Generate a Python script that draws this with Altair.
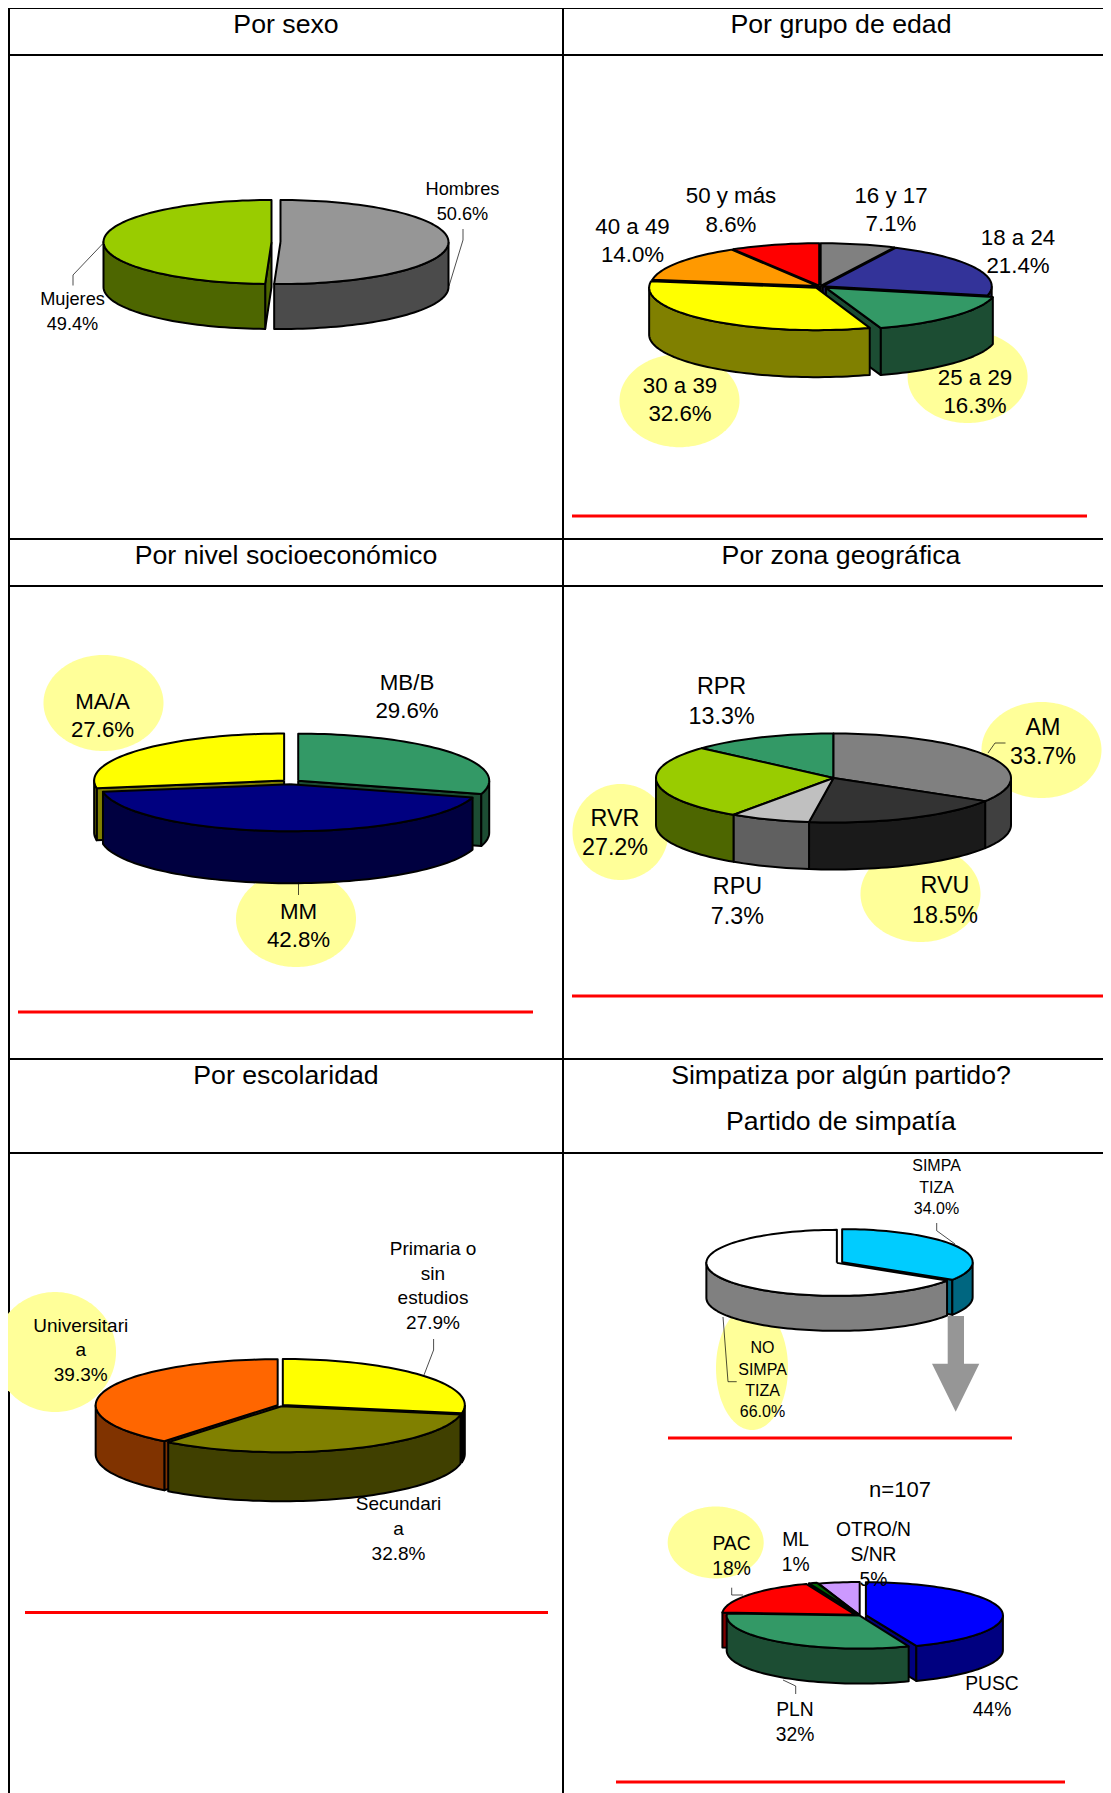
import math
import altair as alt
import pandas as pd

# ---- data values -------------------------------------------------------
sexo_names = ["Hombres", "Mujeres"]
sexo_vals = [50.6, 49.4]
edad_names = ["16 y 17", "18 a 24", "25 a 29", "30 a 39", "40 a 49", "50 y más"]
edad_vals = [7.1, 21.4, 16.3, 32.6, 14.0, 8.6]
nivel_names = ["MB/B", "MM", "MA/A"]
nivel_vals = [29.6, 42.8, 27.6]
zona_names = ["AM", "RVU", "RPU", "RVR", "RPR"]
zona_vals = [33.7, 18.5, 7.3, 27.2, 13.3]
esc_names = ["Primaria o sin estudios", "Secundaria", "Universitaria"]
esc_vals = [27.9, 32.8, 39.3]
simp_names = ["SIMPATIZA", "NO SIMPATIZA"]
simp_vals = [34.0, 66.0]
part_names = ["PUSC", "PLN", "PAC", "ML", "OTRO/NS/NR"]
part_vals = [44, 32, 18, 1, 5]

titles = ["Por sexo", "Por grupo de edad", "Por nivel socioeconómico", "Por zona geográfica",
          "Por escolaridad", "Simpatiza por algún partido?", "Partido de simpatía", "n=107"]

# ---- styles ------------------------------------------------------------
pies = [
    dict(v=sexo_vals, top=["#969696", "#99CC00"], wall=["#4B4B4B", "#4D6600"],
         geo=(276, 242, 168, 42, 45), ex=[4.5, 4.5], grow=[0, 0]),
    dict(v=edad_vals, top=["#808080", "#333399", "#339966", "#FFFF00", "#FF9900", "#FF0000"],
         wall=["#404040", "#1A1A4D", "#1C4D33", "#808000", "#804D00", "#800000"],
         geo=(820, 286.5, 167, 42.5, 47), ex=[3, 3, 8, 6, 3, 3], grow=[4, 2, 4, 0, 0, 0]),
    dict(v=nivel_vals, top=["#339966", "#000080", "#FFFF00"], wall=["#1C4D33", "#000040", "#808000"],
         geo=(291, 782, 190, 47, 52), ex=[9, 9, 9], grow=[1, 0, 0]),
    dict(v=zona_vals, top=["#808080", "#333333", "#C0C0C0", "#99CC00", "#339966"],
         wall=["#404040", "#1A1A1A", "#606060", "#4D6600", "#1C4D33"],
         geo=(833.5, 778, 177.5, 44.5, 47), ex=[0, 0, 0, 0, 0], grow=[0, 0, 0, 0, 0]),
    dict(v=esc_vals, top=["#FFFF00", "#808000", "#FF6600"], wall=["#000000", "#404000", "#803300"],
         geo=(280.5, 1405.5, 182, 46, 49), ex=[3, 3, 3], grow=[0, 0, 0]),
    dict(v=simp_vals, top=["#00CCFF", "#FFFFFF"], wall=["#006680", "#808080"],
         geo=(839.5, 1262.5, 130.5, 33, 35), ex=[3, 3], grow=[0, 0]),
    dict(v=part_vals, top=["#0000FF", "#339966", "#FF0000", "#006600", "#CC99FF"],
         wall=["#000080", "#1C4D33", "#800000", "#003300", "#664D80"],
         geo=(860, 1615.5, 133, 33, 35), ex=[6, 0.5, 6, 6, 2], grow=[4, 0, 0, 0, 0]),
]

h_rules = [(8, 1103, 8), (8, 1103, 55), (8, 1103, 539), (8, 1103, 586), (8, 1103, 1059), (8, 1103, 1153)]
v_rules = [(9, 8, 1793), (563, 8, 1793)]
red_rules = [(572, 1087, 516), (18, 533, 1012), (572, 1103, 996), (25, 548, 1612.5), (668, 1012, 1438), (616, 1065, 1782)]

highlights = [(679.5, 400.7, 60, 46.5), (967.6, 377, 60, 46), (103.5, 703, 60, 48), (296, 919, 60, 48),
              (1041.5, 750, 60, 48), (620.5, 832, 48, 48), (920.5, 894, 60, 48), (55, 1352, 61, 60),
              (752, 1368, 36, 62), (715.7, 1542.5, 48, 36)]

leaders = [
    [(463, 229), (463, 240), (449, 286)], [(102.5, 244), (73, 275), (73, 285.5)],
    [(298.5, 882), (298.5, 895)], [(988, 753), (995, 743), (1005.5, 743)],
    [(433.6, 1339), (433.6, 1350), (424, 1375)], [(936.7, 1223), (936.7, 1230.7), (955, 1244)],
    [(723, 1317), (728, 1381.7), (736.7, 1381.7)], [(731.7, 1587.7), (731.7, 1595), (743, 1595)],
    [(783, 1680), (795.7, 1686), (795.7, 1694)],
]

arrow = [(947.7, 1316), (964, 1316), (964, 1363.7), (979.3, 1363.7), (955.7, 1411.7), (932, 1363.7), (947.7, 1363.7)]

# text, centre x, baselines, size
labels = [
    (titles[0], 286, [33], 26.7), (titles[1], 841, [33], 26.7), (titles[2], 286, [564], 26.7), (titles[3], 841, [564], 26.7),
    (titles[4], 286, [1084], 26.7), (titles[5], 841, [1084], 26.7), (titles[6], 841, [1130], 26.7), (titles[7], 900, [1497], 22),
    ("Hombres|50.6%", 462.5, [194.5, 220], 18.2), ("Mujeres|49.4%", 72.5, [305, 330], 18.2),
    ("50 y más|8.6%", 731, [203, 231.5], 22.3), ("16 y 17|7.1%", 891, [203, 231], 22.3),
    ("18 a 24|21.4%", 1018, [245, 273], 22.3), ("40 a 49|14.0%", 632.5, [234, 262], 22.3),
    ("30 a 39|32.6%", 680, [392.5, 420.5], 22.3), ("25 a 29|16.3%", 975, [385, 413], 22.3),
    ("MB/B|29.6%", 407, [690, 718], 22.3), ("MA/A|27.6%", 102.5, [709, 737], 22.3), ("MM|42.8%", 298.5, [919, 947], 22.3),
    ("RPR|13.3%", 721.6, [694, 724], 23.3), ("RVR|27.2%", 615, [826, 855], 23.3), ("RPU|7.3%", 737.4, [894, 924], 23.3),
    ("RVU|18.5%", 945, [893, 923], 23.3), ("AM|33.7%", 1043, [735, 764], 23.3),
    ("Primaria o|sin|estudios|27.9%", 433, [1255, 1280, 1304, 1329], 19),
    ("Universitari|a|39.3%", 80.7, [1332, 1356, 1381], 19), ("Secundari|a|32.8%", 398.5, [1510, 1535, 1560], 19),
    ("SIMPA|TIZA|34.0%", 936.5, [1171, 1193, 1214], 16), ("NO|SIMPA|TIZA|66.0%", 762.5, [1353, 1375, 1396, 1417], 16),
    ("PAC|18%", 731.5, [1549.5, 1574.5], 19.3), ("ML|1%", 795.7, [1546, 1571], 19.3),
    ("OTRO/N|S/NR|5%", 873.5, [1536, 1560.7, 1586], 19.3), ("PUSC|44%", 992, [1690, 1716], 19.3), ("PLN|32%", 795, [1716, 1741], 19.3),
]

# ---- geometry derived from the values ----------------------------------
rows = []
gid = 0


def poly(points, fill):
    global gid
    pts = list(points) + [points[0]]
    for i, (x, y) in enumerate(pts):
        rows.append(dict(g=gid, i=i, x=x, y=y, fill=fill))
    gid += 1


def arc(cx, cy, rx, ry, a0, a1):
    n = max(2, int(abs(a1 - a0) / 2) + 1)
    out = []
    for k in range(n + 1):
        t = math.radians(a0 + (a1 - a0) * k / n)
        out.append((cx + rx * math.sin(t), cy - ry * math.cos(t)))
    return out


for p in pies:
    cx, cy, rx0, ry, d = p["geo"]
    total = sum(p["v"])
    cum = 0.0
    slices = []
    for v, top, wall, e, g in zip(p["v"], p["top"], p["wall"], p["ex"], p["grow"]):
        a0, a1 = cum / total * 360, (cum + v) / total * 360
        cum += v
        slices.append((a0, a1, top, wall, e, g))
    # paint from the back of the pie to the front
    slices.sort(key=lambda s: -math.cos(math.radians((s[0] + s[1]) / 2)))
    for a0, a1, top, wall, e, g in slices:
        rx = rx0 + g
        m = math.radians((a0 + a1) / 2)
        sx = cx + e * math.sin(m)
        sy = cy - e * math.cos(m) * ry / rx
        if e > 0:
            # a cut face shows only where it turns towards the viewer
            for a, visible in ((a0, math.sin(math.radians(a0)) < -1e-6), (a1, math.sin(math.radians(a1)) > 1e-6)):
                if visible:
                    rim = arc(sx, sy, rx, ry, a, a)[0]
                    poly([(sx, sy), rim, (rim[0], rim[1] + d), (sx, sy + d)], wall)
        lo, hi = max(a0, 90), min(a1, 270)
        if hi > lo:
            edge = arc(sx, sy, rx, ry, lo, hi)
            poly(edge + [(x, y + d) for x, y in reversed(edge)], wall)
        poly([(sx, sy)] + arc(sx, sy, rx, ry, a0, a1), top)

pie_df = pd.DataFrame(rows)

yellow_rows = []
for k, (cx, cy, rx, ry) in enumerate(highlights):
    for i, (x, y) in enumerate(arc(cx, cy, rx, ry, 0, 360)):
        yellow_rows.append(dict(g=k, i=i, x=x, y=y))
yellow_df = pd.DataFrame(yellow_rows)

arrow_df = pd.DataFrame([dict(i=i, x=x, y=y) for i, (x, y) in enumerate(arrow + arrow[:1])])
leader_df = pd.DataFrame([dict(g=k, i=i, x=x, y=y) for k, l in enumerate(leaders) for i, (x, y) in enumerate(l)])
rule_df = pd.DataFrame([dict(x=a, x2=b, y=y, y2=y) for a, b, y in h_rules] + [dict(x=x, x2=x, y=a, y2=b) for x, a, b in v_rules])
red_df = pd.DataFrame([dict(x=a, x2=b, y=y, y2=y) for a, b, y in red_rules])
text_df = pd.DataFrame([dict(t=line, x=x, y=b, s=s) for txt, x, bs, s in labels for line, b in zip(txt.split("|"), bs)])

X = alt.X("x:Q", axis=None, scale=alt.Scale(domain=[8, 1103], nice=False, zero=False))
Y = alt.Y("y:Q", axis=None, scale=alt.Scale(domain=[1793, 8], nice=False, zero=False))

rule_layer = alt.Chart(rule_df).mark_rule(color="black", strokeWidth=2).encode(x=X, y=Y, x2="x2:Q", y2="y2:Q")
yellow_layer = alt.Chart(yellow_df).mark_line(fill="#FFFF99", strokeWidth=0).encode(x=X, y=Y, detail="g:N", order="i:Q")
red_layer = alt.Chart(red_df).mark_rule(color="#FF0000", strokeWidth=3).encode(x=X, y=Y, x2="x2:Q", y2="y2:Q")
arrow_layer = alt.Chart(arrow_df).mark_line(fill="#969696", strokeWidth=0).encode(x=X, y=Y, order="i:Q")
pie_layer = alt.Chart(pie_df).mark_line(stroke="black", strokeWidth=2, strokeJoin="round").encode(
    x=X, y=Y, detail="g:N", order="i:Q", fill=alt.Fill("fill:N", scale=None))
leader_layer = alt.Chart(leader_df).mark_line(stroke="black", strokeWidth=0.7).encode(x=X, y=Y, detail="g:N", order="i:Q")
text_layer = alt.Chart(text_df).mark_text(font="Liberation Sans", align="center", baseline="alphabetic", color="black").encode(
    x=X, y=Y, text="t:N", size=alt.Size("s:Q", scale=None))

chart = alt.layer(rule_layer, yellow_layer, red_layer, arrow_layer, pie_layer, leader_layer, text_layer).properties(
    width=1095, height=1785, padding=0, autosize=alt.AutoSizeParams(type="none"),
    background="white",
).configure_view(stroke=None)

chart.save("out.html", embed_options={"renderer": "svg", "actions": False})
